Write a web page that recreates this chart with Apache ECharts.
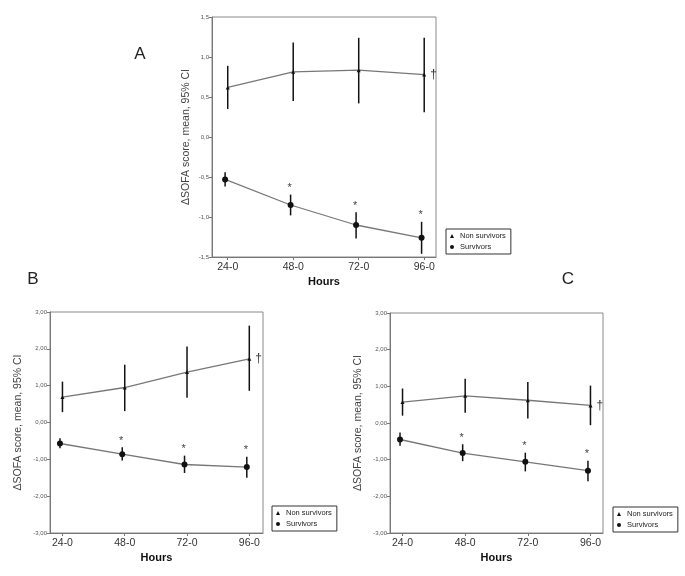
<!DOCTYPE html>
<html>
<head>
<meta charset="utf-8">
<script src="https://cdn.jsdelivr.net/npm/echarts@6/dist/echarts.min.js"></script>
<style>
html,body{margin:0;padding:0;background:#fff;}
#chart{width:685px;height:576px;}
</style>
</head>
<body>
<div id="chart"></div>
<script>
const categories = ['24-0', '48-0', '72-0', '96-0'];
const seriesNames = ['Non survivors', 'Survivors'];
const yAxisName = '\u0394SOFA score, mean, 95% CI';
const xAxisName = 'Hours';

// Panel A
const aNonMean = [0.62, 0.815, 0.835, 0.78];
const aNonLow  = [0.35, 0.45, 0.42, 0.31];
const aNonHigh = [0.89, 1.18, 1.24, 1.24];
const aSurMean = [-0.53, -0.85, -1.10, -1.26];
const aSurLow  = [-0.62, -0.98, -1.27, -1.46];
const aSurHigh = [-0.44, -0.72, -0.94, -1.06];
const aYTicks = [-1.5, -1.0, -0.5, 0.0, 0.5, 1.0, 1.5];

// Panel B
const bNonMean = [0.69, 0.95, 1.37, 1.73];
const bNonLow  = [0.28, 0.31, 0.67, 0.86];
const bNonHigh = [1.11, 1.57, 2.06, 2.63];
const bSurMean = [-0.57, -0.86, -1.14, -1.21];
const bSurLow  = [-0.70, -1.03, -1.37, -1.50];
const bSurHigh = [-0.43, -0.67, -0.90, -0.93];
const bYTicks = [-3, -2, -1, 0, 1, 2, 3];

// Panel C
const cNonMean = [0.57, 0.74, 0.62, 0.48];
const cNonLow  = [0.20, 0.28, 0.12, -0.06];
const cNonHigh = [0.94, 1.21, 1.12, 1.02];
const cSurMean = [-0.45, -0.82, -1.06, -1.30];
const cSurLow  = [-0.62, -1.04, -1.32, -1.59];
const cSurHigh = [-0.26, -0.58, -0.81, -1.03];
const cYTicks = [-3, -2, -1, 0, 1, 2, 3];

// significance marks
const starIndices = [1, 2, 3];   // '*' over survivors
const daggerIndex = 3;           // '†' next to non survivors

const FONT = '"Liberation Sans", Arial, sans-serif';
const SURV_DX = -0.04; // small horizontal dodge of the survivors group

const panels = [
  { letter: 'A', letterPos: [140, 54],
    grid: { left: 212, top: 17, width: 224, height: 240 },
    xMin: -0.24, xMax: 3.18, yTicks: aYTicks, dec: 1, nameGap: 20,
    legend: { left: 446, top: 229 },
    non: [aNonMean, aNonLow, aNonHigh], sur: [aSurMean, aSurLow, aSurHigh] },
  { letter: 'B', letterPos: [33, 279],
    grid: { left: 50, top: 312, width: 213, height: 221 },
    xMin: -0.2, xMax: 3.22, yTicks: bYTicks, dec: 2, nameGap: 26,
    legend: { left: 272, top: 506 },
    non: [bNonMean, bNonLow, bNonHigh], sur: [bSurMean, bSurLow, bSurHigh] },
  { letter: 'C', letterPos: [568, 279],
    grid: { left: 390, top: 313, width: 213, height: 220 },
    xMin: -0.2, xMax: 3.2, yTicks: cYTicks, dec: 2, nameGap: 26,
    legend: { left: 613, top: 507 },
    non: [cNonMean, cNonLow, cNonHigh], sur: [cSurMean, cSurLow, cSurHigh] }
];

const grids = [], xAxes = [], yAxes = [], series = [], legends = [], graphics = [];
const idx = categories.map((c, i) => i);

panels.forEach((p, k) => {
  grids.push(Object.assign({ show: true, borderColor: '#8a8a8a', borderWidth: 1, containLabel: false }, p.grid));
  xAxes.push({
    gridIndex: k, type: 'value', min: p.xMin, max: p.xMax,
    axisLine: { show: true, onZero: false, lineStyle: { color: '#777', width: 1 } },
    axisTick: { show: true, customValues: idx, length: 3, lineStyle: { color: '#777' } },
    axisLabel: { customValues: idx, formatter: v => categories[Math.round(v)], fontSize: 10.5, color: '#333', fontFamily: FONT, margin: 5 },
    splitLine: { show: false },
    name: xAxisName, nameLocation: 'middle', nameGap: 19,
    nameTextStyle: { fontSize: 11, fontWeight: 'bold', color: '#111', fontFamily: FONT }
  });
  const yt = p.yTicks;
  yAxes.push({
    gridIndex: k, type: 'value', min: yt[0], max: yt[yt.length - 1], interval: yt[1] - yt[0],
    axisLine: { show: true, onZero: false, lineStyle: { color: '#777', width: 1 } },
    axisTick: { show: true, length: 3, lineStyle: { color: '#777' } },
    axisLabel: { fontSize: 6, color: '#555', fontFamily: FONT, margin: 3,
      formatter: v => v.toFixed(p.dec).replace('.', ',') },
    splitLine: { show: false },
    name: yAxisName, nameLocation: 'middle', nameGap: p.nameGap,
    nameTextStyle: { fontSize: 10.5, color: '#444', fontFamily: FONT }
  });

  const [nMean, nLow, nHigh] = p.non;
  const [sMean, sLow, sHigh] = p.sur;

  // mean lines
  series.push({
    type: 'line', name: seriesNames[0], xAxisIndex: k, yAxisIndex: k,
    data: nMean.map((v, i) => [i, v]),
    symbol: 'triangle', symbolSize: 4,
    itemStyle: { color: '#111' }, lineStyle: { color: '#777', width: 1.3 }, z: 4
  });
  series.push({
    type: 'line', name: seriesNames[1], xAxisIndex: k, yAxisIndex: k,
    data: sMean.map((v, i) => [i + SURV_DX, v]),
    symbol: 'circle', symbolSize: 6,
    itemStyle: { color: '#111' }, lineStyle: { color: '#777', width: 1.3 }, z: 4
  });

  // error bars
  const bars = nMean.map((v, i) => [i, nLow[i], nHigh[i]])
    .concat(sMean.map((v, i) => [i + SURV_DX, sLow[i], sHigh[i]]));
  series.push({
    type: 'custom', xAxisIndex: k, yAxisIndex: k, silent: true, z: 3,
    data: bars,
    encode: { x: 0, y: [1, 2] },
    renderItem: (params, api) => {
      const a = api.coord([api.value(0), api.value(1)]);
      const b = api.coord([api.value(0), api.value(2)]);
      return { type: 'line', shape: { x1: a[0], y1: a[1], x2: b[0], y2: b[1] },
        style: { stroke: '#111', lineWidth: 1.5 } };
    }
  });

  // stars above survivors
  series.push({
    type: 'custom', xAxisIndex: k, yAxisIndex: k, silent: true, z: 5,
    data: starIndices.map(i => [i + SURV_DX, sHigh[i]]),
    renderItem: (params, api) => {
      const c = api.coord([api.value(0), api.value(1)]);
      return { type: 'text', x: c[0] - 1, y: c[1] - 1,
        style: { text: '*', fontSize: 11, fill: '#444', align: 'center', verticalAlign: 'bottom', fontFamily: FONT } };
    }
  });

  // dagger next to non survivors
  series.push({
    type: 'custom', xAxisIndex: k, yAxisIndex: k, silent: true, z: 5,
    data: [[daggerIndex, nMean[daggerIndex]]],
    renderItem: (params, api) => {
      const c = api.coord([api.value(0), api.value(1)]);
      return { type: 'text', x: c[0] + 6, y: c[1],
        style: { text: '\u2020', fontSize: 12, fill: '#333', align: 'left', verticalAlign: 'middle', fontFamily: FONT } };
    }
  });

  legends.push({
    left: p.legend.left, top: p.legend.top, orient: 'vertical',
    data: [{ name: seriesNames[0], icon: 'triangle' }, { name: seriesNames[1], icon: 'circle' }],
    borderColor: '#333', borderWidth: 1, borderRadius: 0, padding: [3, 5, 3, 4],
    itemWidth: 4, itemHeight: 4, itemGap: 3,
    itemStyle: { color: '#111' },
    textStyle: { fontSize: 7.5, color: '#222', fontFamily: FONT, padding: [0, 0, 0, 1] },
    selectedMode: false
  });

  graphics.push({
    type: 'text', x: p.letterPos[0], y: p.letterPos[1],
    style: { text: p.letter, fontSize: 17, fill: '#222', align: 'center', verticalAlign: 'middle', fontFamily: FONT }
  });
});

const chart = echarts.init(document.getElementById('chart'), null, { renderer: 'canvas' });
chart.setOption({
  backgroundColor: '#fff',
  animation: false,
  grid: grids, xAxis: xAxes, yAxis: yAxes,
  legend: legends, series: series, graphic: graphics
});
</script>
</body>
</html>
